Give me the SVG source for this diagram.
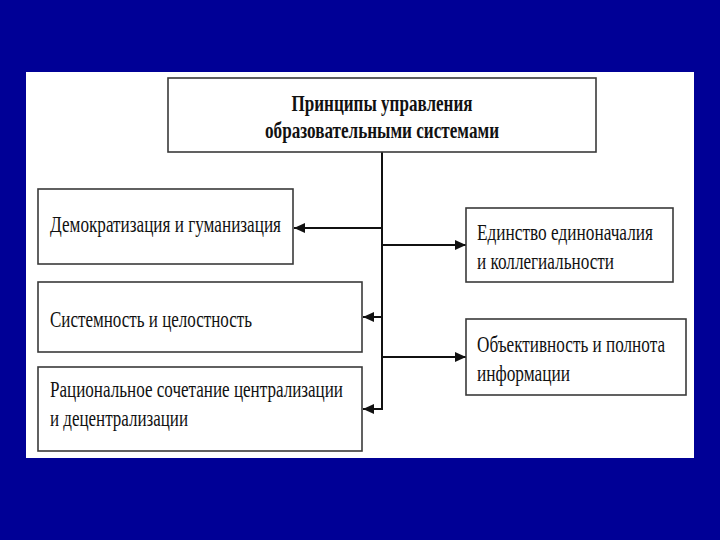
<svg xmlns="http://www.w3.org/2000/svg" width="720" height="540" viewBox="0 0 720 540">
<style>
.box{fill:#fff;stroke:#3a3a3a;stroke-width:1.6}
.t{font-family:"Liberation Serif","Times New Roman",serif;font-size:24px;fill:#111}
.tb{font-family:"Liberation Serif","Times New Roman",serif;font-size:24px;font-weight:bold;fill:#111}
.c{fill:none;stroke:#111;stroke-width:2}
</style>
<defs>
<marker id="ah" markerUnits="userSpaceOnUse" markerWidth="11" markerHeight="10" refX="11" refY="5" orient="auto">
<path d="M0,0 L11,5 L0,10 z" fill="#111"/>
</marker>
</defs>
<rect x="0" y="0" width="720" height="540" fill="#000096"/>
<rect x="26" y="72" width="668" height="386" fill="#fff"/>
<g id="connectors">
<line class="c" x1="382" y1="152" x2="382" y2="410"/>
<line class="c" x1="382" y1="228" x2="294" y2="228" marker-end="url(#ah)"/>
<line class="c" x1="382" y1="245" x2="466" y2="245" marker-end="url(#ah)"/>
<line class="c" x1="382" y1="317" x2="363" y2="317" marker-end="url(#ah)"/>
<line class="c" x1="382" y1="357" x2="466" y2="357" marker-end="url(#ah)"/>
<line class="c" x1="382" y1="409" x2="363" y2="409" marker-end="url(#ah)"/>
</g>
<g id="root">
<rect class="box" x="168" y="78" width="428" height="74"/>
<text class="tb" x="382" y="111" text-anchor="middle" textLength="181" lengthAdjust="spacingAndGlyphs">Принципы управления</text>
<text class="tb" x="382" y="138" text-anchor="middle" textLength="234" lengthAdjust="spacingAndGlyphs">образовательными системами</text>
</g>
<g id="n1">
<rect class="box" x="38" y="189" width="255" height="75"/>
<text class="t" x="50" y="232" textLength="231" lengthAdjust="spacingAndGlyphs">Демократизация и гуманизация</text>
</g>
<g id="n2">
<rect class="box" x="38" y="282" width="324" height="70"/>
<text class="t" x="50" y="327" textLength="202" lengthAdjust="spacingAndGlyphs">Системность и целостность</text>
</g>
<g id="n3">
<rect class="box" x="38" y="367" width="324" height="84"/>
<text class="t" x="50" y="397" textLength="293" lengthAdjust="spacingAndGlyphs">Рациональное сочетание централизации</text>
<text class="t" x="50" y="426" textLength="138" lengthAdjust="spacingAndGlyphs">и децентрализации</text>
</g>
<g id="n4">
<rect class="box" x="466" y="208" width="207" height="74"/>
<text class="t" x="477" y="240" textLength="176" lengthAdjust="spacingAndGlyphs">Единство единоначалия</text>
<text class="t" x="477" y="269" textLength="137" lengthAdjust="spacingAndGlyphs">и коллегиальности</text>
</g>
<g id="n5">
<rect class="box" x="466" y="319" width="220" height="76"/>
<text class="t" x="477" y="352" textLength="188" lengthAdjust="spacingAndGlyphs">Объективность и полнота</text>
<text class="t" x="477" y="381" textLength="93" lengthAdjust="spacingAndGlyphs">информации</text>
</g>
</svg>
